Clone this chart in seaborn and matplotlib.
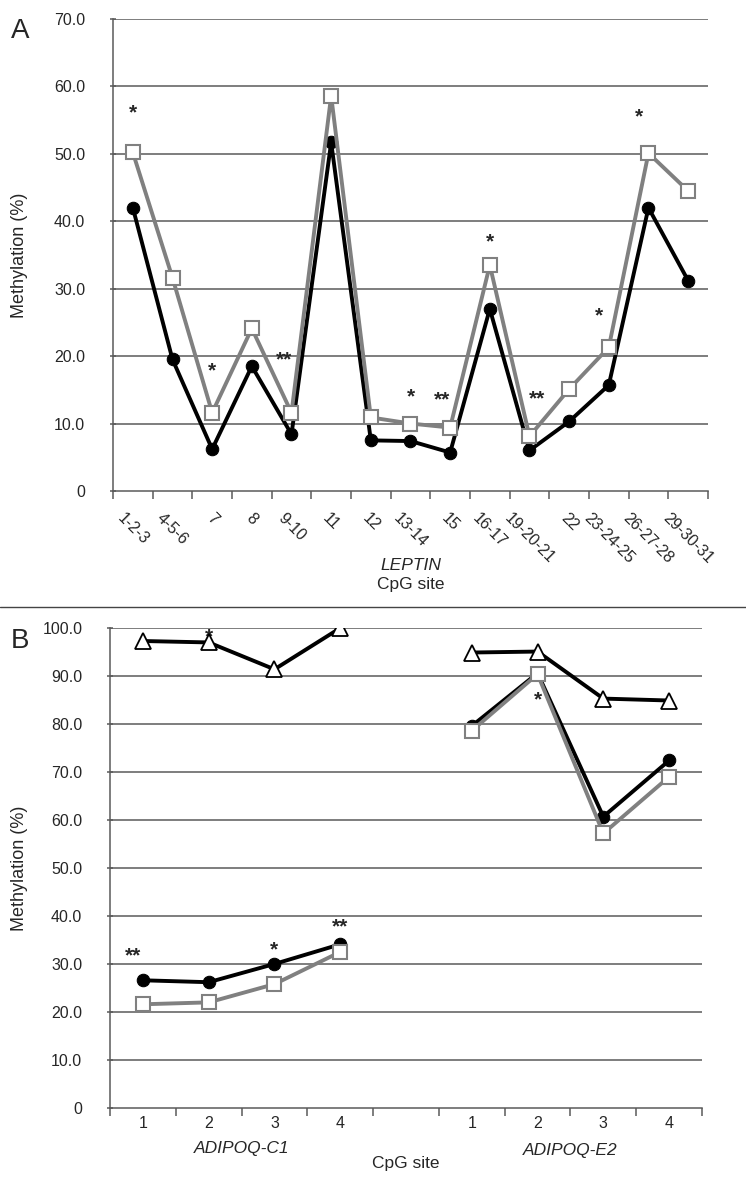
import numpy as np
import pandas as pd
import matplotlib
matplotlib.use('Agg')
import matplotlib.pyplot as plt
import seaborn as sns
from matplotlib.lines import Line2D

# ---- panel A data (LEPTIN) ----
leptin_sites = ['1-2-3', '4-5-6', '7', '8', '9-10', '11', '12', '13-14', '15',
                '16-17', '19-20-21', '22', '23-24-25', '26-27-28', '29-30-31']
leptin_black = [42.0, 19.5, 6.2, 18.5, 8.4, 51.7, 7.5, 7.4, 5.7, 27.0, 6.0, 10.3, 15.7, 42.0, 31.2]
leptin_gray = [50.2, 31.6, 11.6, 24.1, 11.6, 58.6, 10.9, 10.0, 9.4, 33.5, 8.1, 15.1, 21.3, 50.1, 44.5]
leptin_stars = [(0, 56.0, '*'), (2, 17.8, '*'), (3.8, 19.4, '**'), (7, 14.0, '*'), (7.8, 13.5, '**'),
                (9, 37.0, '*'), (10.2, 13.7, '**'), (11.75, 26.0, '*'), (12.75, 55.5, '*')]
ticks_a = [0, 10, 20, 30, 40, 50, 60, 70]

# ---- panel B data (ADIPOQ) ----
cpg_sites = ['1', '2', '3', '4']
c1_black = [26.6, 26.2, 30.0, 34.1]
c1_gray = [21.6, 22.0, 25.8, 32.5]
c1_tri = [97.3, 97.0, 91.4, 100.0]
e2_black = [79.6, 90.6, 60.7, 72.4]
e2_gray = [78.6, 90.4, 57.2, 69.0]
e2_tri = [94.9, 95.1, 85.3, 84.9]
adipoq_stars = [(-0.15, 31.6, '**'), (1, 98.2, '*'), (2, 33.0, '*'), (3, 37.8, '**'), (6, 85.0, '*')]
ticks_b = [0, 10, 20, 30, 40, 50, 60, 70, 80, 90, 100]

sns.set_style('white')
plt.rcParams['font.family'] = ['Liberation Sans', 'DejaVu Sans']

GRAY = '#808080'
GRID = '#5a5a5a'
fig = plt.figure(figsize=(7.46, 11.87), dpi=100)

def style_axes(ax, yticks, n_slots):
    ax.set_xlim(-0.5, n_slots - 0.5)
    ax.set_ylim(yticks[0], yticks[-1])
    ax.set_yticks(yticks)
    ax.set_yticklabels(['0'] + ['%.1f' % t for t in yticks[1:]], fontsize=11.5)
    for t in yticks[1:]:
        ax.axhline(t, color=GRID, lw=1.1, zorder=0)
    for s in ['top', 'right']:
        ax.spines[s].set_visible(False)
    for s in ['left', 'bottom']:
        ax.spines[s].set_color(GRID)
        ax.spines[s].set_linewidth(1.1)
    ax.set_xticks(np.arange(-0.5, n_slots, 1.0), minor=True)
    ax.tick_params(axis='x', which='minor', length=6, width=1.1, color=GRID, direction='out', bottom=True)
    ax.tick_params(axis='x', which='major', length=0, pad=14)
    ax.tick_params(axis='y', length=4, width=1.1, color=GRID, direction='inout', left=True, pad=18)
    ax.set_xlabel('')
    ax.set_ylabel('Methylation (%)', fontsize=13)

def draw_series(ax, x, y, kind):
    df = pd.DataFrame({'x': x, 'y': y})
    if kind == 'black':
        sns.lineplot(data=df, x='x', y='y', ax=ax, color='black', lw=2.8, marker='o',
                     markersize=9, markerfacecolor='black', markeredgecolor='black', zorder=4)
    elif kind == 'gray':
        sns.lineplot(data=df, x='x', y='y', ax=ax, color=GRAY, lw=2.8, marker='s',
                     markersize=10, markerfacecolor='white', markeredgecolor=GRAY,
                     markeredgewidth=1.5, zorder=5)
    else:
        sns.lineplot(data=df, x='x', y='y', ax=ax, color='black', lw=2.8, marker='^',
                     markersize=11, markerfacecolor='white', markeredgecolor='black',
                     markeredgewidth=1.3, zorder=5)

# ---- Panel A ----
axA = fig.add_axes([0.1515, 0.5864, 0.7975, 0.3976])
xa = np.arange(len(leptin_sites))
draw_series(axA, xa, leptin_black, 'black')
draw_series(axA, xa, leptin_gray, 'gray')
style_axes(axA, ticks_a, len(leptin_sites))
axA.yaxis.set_label_coords(-0.143, 0.5)
axA.set_xticks(xa)
axA.set_xticklabels(leptin_sites, rotation=-45, ha='center', va='top', fontsize=11.5)
for i, yv, s in leptin_stars:
    axA.text(i, yv, s, ha='center', va='center', fontsize=15, fontweight='bold')
axA.text(0.5, -0.168, 'LEPTIN', transform=axA.transAxes, ha='center', fontsize=12.5, style='italic')
axA.text(0.5, -0.207, 'CpG site', transform=axA.transAxes, ha='center', fontsize=12.5)

# ---- Panel B ----
axB = fig.add_axes([0.1475, 0.0666, 0.7935, 0.4043])
xc1 = np.arange(len(cpg_sites))
xe2 = np.arange(len(cpg_sites)) + len(cpg_sites) + 1
draw_series(axB, xc1, c1_tri, 'tri')
draw_series(axB, xc1, c1_black, 'black')
draw_series(axB, xc1, c1_gray, 'gray')
draw_series(axB, xe2, e2_tri, 'tri')
draw_series(axB, xe2, e2_black, 'black')
draw_series(axB, xe2, e2_gray, 'gray')
style_axes(axB, ticks_b, 2 * len(cpg_sites) + 1)
axB.yaxis.set_label_coords(-0.139, 0.5)
axB.set_xticks(np.concatenate([xc1, xe2]))
axB.set_xticklabels(cpg_sites + cpg_sites, fontsize=11.5)
axB.tick_params(axis='x', which='major', pad=6)
for i, yv, s in adipoq_stars:
    axB.text(i, yv, s, ha='center', va='center', fontsize=15, fontweight='bold')
axB.text(xc1.mean(), -8.5, 'ADIPOQ-C1', ha='center', va='center', fontsize=12.5, style='italic')
axB.text(xe2.mean(), -8.8, 'ADIPOQ-E2', ha='center', va='center', fontsize=12.5, style='italic')
axB.text(0.5 * (xc1.mean() + xe2.mean()), -11.6, 'CpG site', ha='center', va='center', fontsize=12.5)

# panel letters and separator
fig.text(0.014, 0.985, 'A', fontsize=20, va='top')
fig.text(0.014, 0.471, 'B', fontsize=20, va='top')
fig.add_artist(Line2D([0, 1], [1 - 607 / 1187, 1 - 607 / 1187], color='#444444', lw=1.0,
                      transform=fig.transFigure))

fig.savefig('out.png', dpi=100)
